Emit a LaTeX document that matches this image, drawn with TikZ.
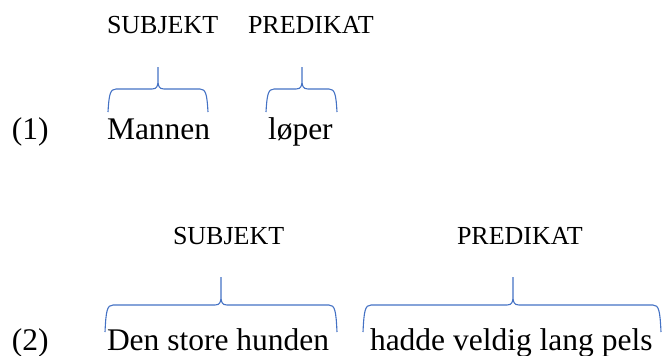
\documentclass[tikz,border=0pt]{standalone}
\usepackage{fontspec}
\setmainfont{Liberation Serif}
\begin{document}
\begin{tikzpicture}[x=1pt,y=-1pt,
  every node/.style={inner sep=0pt,outer sep=0pt,anchor=base west},
  sent/.style={font=\fontsize{31.5}{36}\selectfont},
  role/.style={font=\fontsize{26}{30}\selectfont},
  bracestyle/.style={draw=braceblue,line width=1.1pt,line join=round}]
\definecolor{braceblue}{HTML}{4472C4}
\useasboundingbox (0,0) rectangle (662,356);

% curly brace: left x, right x, tip x, bottom y, bar y, tip y
\newcommand\wordbrace[6]{%
  \path[bracestyle]
    (#1,#4) .. controls (#1+1,#5+6) and (#1+2,#5) .. (#1+8,#5)
    -- (#3-6,#5) .. controls (#3-1,#5) and (#3,#5-3) .. (#3,#5-9)
    -- (#3,#6)
    (#3,#5-9) .. controls (#3,#5-3) and (#3+1,#5) .. (#3+6,#5)
    -- (#2-8,#5) .. controls (#2-2,#5) and (#2-1,#5+6) .. (#2,#4);}

% example (1)
\node[role] (subj1) at (107,33) {SUBJEKT};
\node[role] (pred1) at (248,33) {PREDIKAT};
\wordbrace{108}{208}{158}{112}{89}{67}
\wordbrace{266}{337}{302}{112}{89}{67}
\node[sent] (num1) at (12,139) {(1)};
\node[sent] (np1) at (107,139) {Mannen};
\node[sent] (vp1) at (268,139) {løper};

% example (2)
\node[role] (subj2) at (173,244) {SUBJEKT};
\node[role] (pred2) at (457,244) {PREDIKAT};
\wordbrace{105}{337}{221}{332}{305}{277}
\wordbrace{363}{661}{513}{332}{305}{277}
\node[sent] (num2) at (12,350) {(2)};
\node[sent] (np2) at (107,350) {Den store hunden};
\node[sent] (vp2) at (370,350) {hadde veldig lang pels};
\end{tikzpicture}
\end{document}
